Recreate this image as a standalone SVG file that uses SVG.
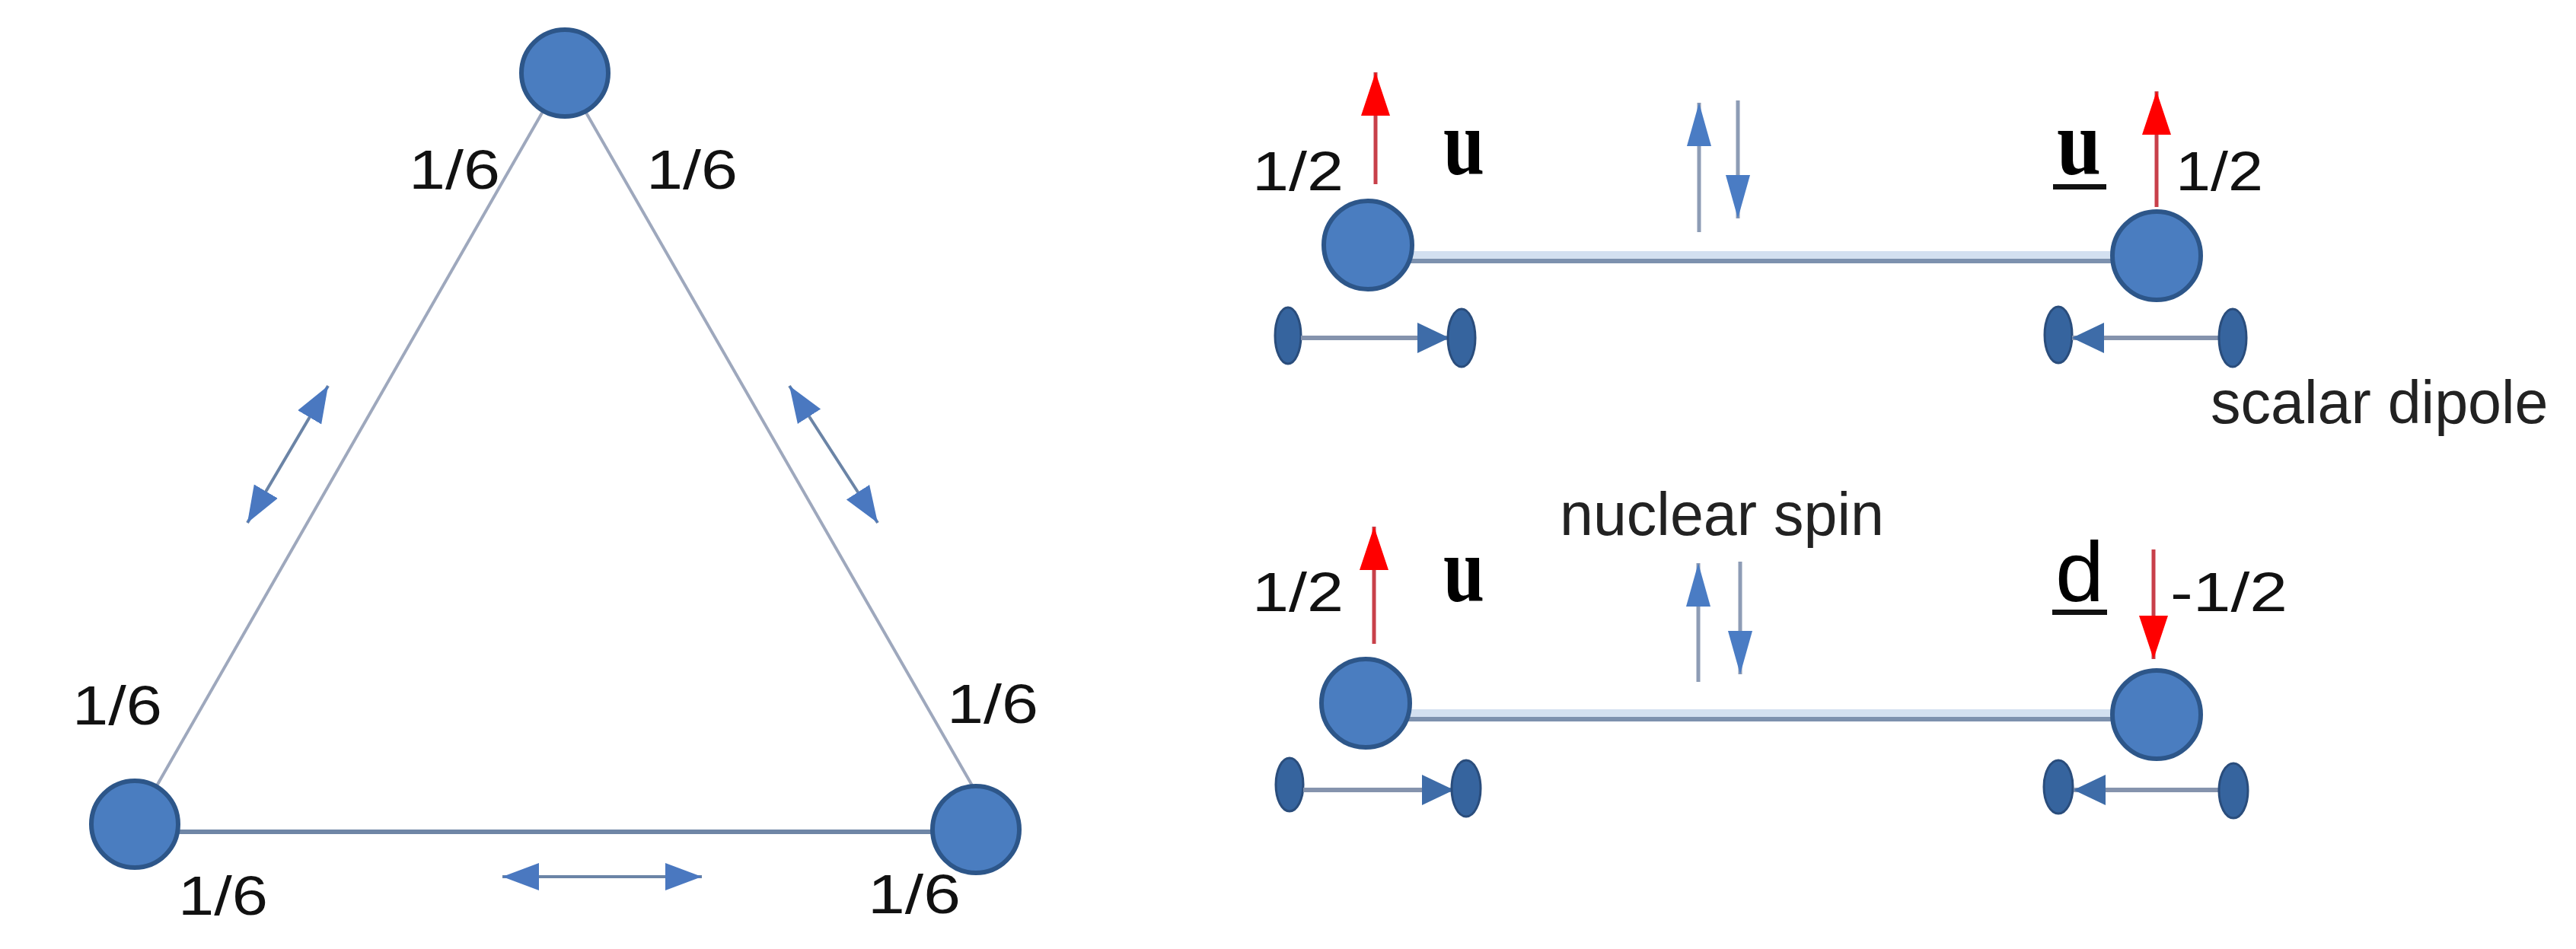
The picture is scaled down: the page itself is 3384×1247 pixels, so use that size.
<svg xmlns="http://www.w3.org/2000/svg" width="3384" height="1247" viewBox="0 0 3384 1247">
<style>
.bg{fill:#ffffff}
.node{fill:#4a7dc0;stroke:#2d5689;stroke-width:6}
.tri{stroke:#9ea8bd;stroke-width:4;fill:none}
.base{stroke:#6f86a6;stroke-width:6;fill:none}
.bond{stroke:#7d91ae;stroke-width:6;fill:none}
.halo{stroke:#d3e0f0;stroke-width:16;fill:none}
.dbl{stroke:#6b84a6;stroke-width:4;fill:none}
.spin{stroke:#8d9cb5;stroke-width:5;fill:none}
.red{stroke:#c8404a;stroke-width:5;fill:none}
.dip{stroke:#8593ad;stroke-width:6;fill:none}
.dipend{fill:#36649e;stroke:#2a4d7c;stroke-width:3}
.frac{font-family:"Liberation Sans",Arial,sans-serif;font-size:72px;fill:#111}
.quark{font-family:"Liberation Serif","Times New Roman",serif;font-size:122px;font-weight:bold;fill:#000}
.quarkd{font-family:"Liberation Sans",Arial,sans-serif;font-size:112px;fill:#000}
.note{font-family:"Liberation Sans",Arial,sans-serif;font-size:79px;fill:#222}
</style>
<defs>
<marker id="blueHead" markerUnits="userSpaceOnUse" markerWidth="50" markerHeight="40" refX="48" refY="20" orient="auto-start-reverse" viewBox="0 0 50 40">
<path d="M0,2 L48,20 L0,38 z" fill="#4a78c0"/>
</marker>
<marker id="spinHead" markerUnits="userSpaceOnUse" markerWidth="58" markerHeight="36" refX="57" refY="18" orient="auto" viewBox="0 0 58 36">
<path d="M0,2 L57,18 L0,34 z" fill="#4a7cc4"/>
</marker>
<marker id="redHead" markerUnits="userSpaceOnUse" markerWidth="58" markerHeight="42" refX="57" refY="21" orient="auto" viewBox="0 0 58 42">
<path d="M0,2 L57,21 L0,40 z" fill="#ff0000"/>
</marker>
<marker id="dipHead" markerUnits="userSpaceOnUse" markerWidth="44" markerHeight="44" refX="42" refY="22" orient="auto" viewBox="0 0 44 44">
<path d="M0,2 L42,22 L0,42 z" fill="#3e6ca8"/>
</marker>
</defs>
<rect class="bg" x="0" y="0" width="3384" height="1247"/>

<g id="connectors">
<line class="tri" x1="742" y1="96" x2="177" y2="1083"/>
<line class="tri" x1="740" y1="96" x2="1277" y2="1032"/>
<line class="base" x1="177" y1="1093" x2="1282" y2="1093"/>
<line class="halo" x1="1797" y1="338" x2="2833" y2="338"/>
<line class="bond" x1="1797" y1="343" x2="2833" y2="343"/>
<line class="halo" x1="1794" y1="940" x2="2833" y2="940"/>
<line class="bond" x1="1794" y1="945" x2="2833" y2="945"/>
</g>

<g id="triangle-arrows">
<line class="dbl" x1="431" y1="507" x2="325" y2="687" marker-start="url(#blueHead)" marker-end="url(#blueHead)"/>
<line class="dbl" x1="1037" y1="507" x2="1153" y2="687" marker-start="url(#blueHead)" marker-end="url(#blueHead)"/>
<line class="dbl" x1="660" y1="1152" x2="922" y2="1152" marker-start="url(#blueHead)" marker-end="url(#blueHead)"/>
</g>

<g id="node-top"><circle class="node" cx="742" cy="96" r="57"/></g>
<g id="node-bl"><circle class="node" cx="177" cy="1083" r="57"/></g>
<g id="node-br"><circle class="node" cx="1282" cy="1090" r="57"/></g>

<g id="triangle-labels">
<text class="frac" x="537" y="248" textLength="120" lengthAdjust="spacingAndGlyphs">1/6</text>
<text class="frac" x="849" y="248" textLength="120" lengthAdjust="spacingAndGlyphs">1/6</text>
<text class="frac" x="95" y="952" textLength="118" lengthAdjust="spacingAndGlyphs">1/6</text>
<text class="frac" x="1244" y="950" textLength="120" lengthAdjust="spacingAndGlyphs">1/6</text>
<text class="frac" x="234" y="1202" textLength="118" lengthAdjust="spacingAndGlyphs">1/6</text>
<text class="frac" x="1140" y="1200" textLength="122" lengthAdjust="spacingAndGlyphs">1/6</text>
</g>

<g id="pair-uu">
<g id="node-u1"><circle class="node" cx="1797" cy="322" r="58"/></g>
<g id="node-ubar1"><circle class="node" cx="2833" cy="336" r="58"/></g>
<line class="red" x1="1807" y1="242" x2="1807" y2="95" marker-end="url(#redHead)"/>
<line class="red" x1="2833" y1="272" x2="2833" y2="120" marker-end="url(#redHead)"/>
<line class="spin" x1="2232" y1="305" x2="2232" y2="135" marker-end="url(#spinHead)"/>
<line class="spin" x1="2283" y1="132" x2="2283" y2="287" marker-end="url(#spinHead)"/>
<text class="frac" x="1645" y="250" textLength="120" lengthAdjust="spacingAndGlyphs">1/2</text>
<text class="frac" x="2858" y="250" textLength="115" lengthAdjust="spacingAndGlyphs">1/2</text>
<text class="quark" x="1896" y="229" textLength="54" lengthAdjust="spacingAndGlyphs">u</text>
<text class="quark" x="2702" y="229" textLength="58" lengthAdjust="spacingAndGlyphs">u</text>
<rect x="2697" y="242" width="70" height="7" fill="#111"/>
<g id="dipole-1">
<ellipse class="dipend" cx="1692" cy="441" rx="17" ry="37"/>
<line class="dip" x1="1709" y1="444" x2="1904" y2="444" marker-end="url(#dipHead)"/>
<ellipse class="dipend" cx="1920" cy="444" rx="18" ry="38"/>
</g>
<g id="dipole-2">
<ellipse class="dipend" cx="2704" cy="440" rx="18" ry="37"/>
<line class="dip" x1="2915" y1="444" x2="2722" y2="444" marker-end="url(#dipHead)"/>
<ellipse class="dipend" cx="2933" cy="444" rx="18" ry="38"/>
</g>
<text class="note" x="2904" y="556">scalar dipole</text>
</g>

<g id="pair-ud">
<g id="node-u2"><circle class="node" cx="1794" cy="924" r="58"/></g>
<g id="node-dbar"><circle class="node" cx="2833" cy="939" r="58"/></g>
<line class="red" x1="1805" y1="846" x2="1805" y2="692" marker-end="url(#redHead)"/>
<line class="red" x1="2829" y1="722" x2="2829" y2="866" marker-end="url(#redHead)"/>
<line class="spin" x1="2231" y1="896" x2="2231" y2="740" marker-end="url(#spinHead)"/>
<line class="spin" x1="2286" y1="738" x2="2286" y2="886" marker-end="url(#spinHead)"/>
<text class="frac" x="1645" y="803" textLength="120" lengthAdjust="spacingAndGlyphs">1/2</text>
<text class="frac" x="2851" y="803" textLength="154" lengthAdjust="spacingAndGlyphs">-1/2</text>
<text class="quark" x="1896" y="790" textLength="54" lengthAdjust="spacingAndGlyphs">u</text>
<text class="quarkd" x="2700" y="790" textLength="64" lengthAdjust="spacingAndGlyphs">d</text>
<rect x="2696" y="801" width="72" height="7" fill="#111"/>
<text class="note" x="2049" y="703">nuclear spin</text>
<g id="dipole-3">
<ellipse class="dipend" cx="1694" cy="1031" rx="18" ry="35"/>
<line class="dip" x1="1712" y1="1038" x2="1910" y2="1038" marker-end="url(#dipHead)"/>
<ellipse class="dipend" cx="1926" cy="1036" rx="19" ry="37"/>
</g>
<g id="dipole-4">
<ellipse class="dipend" cx="2704" cy="1034" rx="19" ry="35"/>
<line class="dip" x1="2915" y1="1038" x2="2724" y2="1038" marker-end="url(#dipHead)"/>
<ellipse class="dipend" cx="2934" cy="1039" rx="19" ry="36"/>
</g>
</g>
</svg>
